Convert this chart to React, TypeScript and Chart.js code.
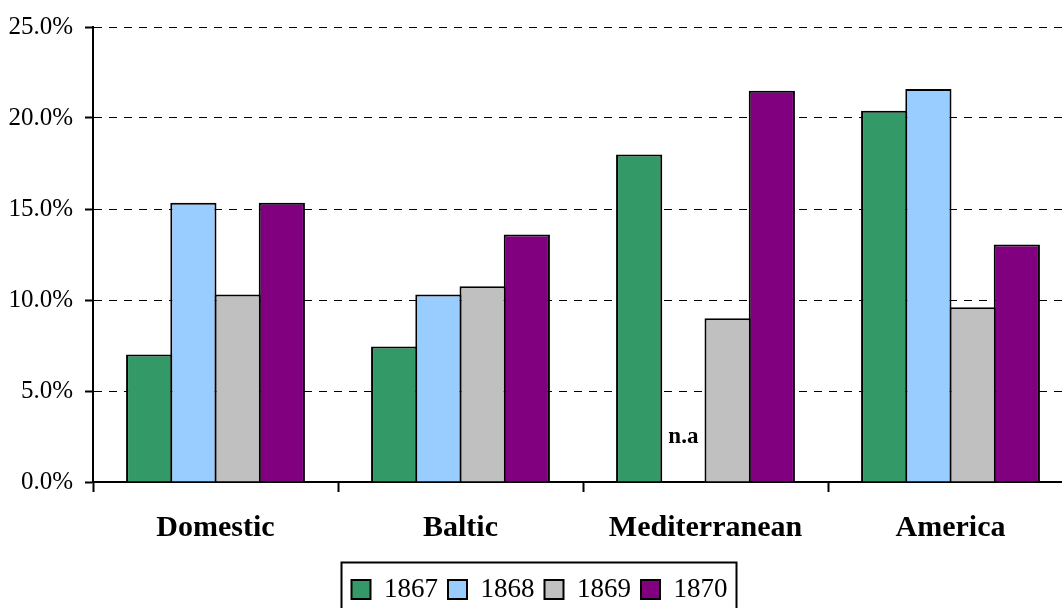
import { useEffect, useRef } from 'react';
import { Chart, registerables } from 'chart.js';

Chart.register(...registerables);

// Share by trade region, per year (percent); null = not available
const regions = ['Domestic', 'Baltic', 'Mediterranean', 'America'];
const years = ['1867', '1868', '1869', '1870'];
const share1867 = [7.0, 7.45, 18.0, 20.4];
const share1868 = [15.35, 10.3, null, 21.6];
const share1869 = [10.3, 10.75, 9.0, 9.6];
const share1870 = [15.35, 13.6, 21.5, 13.05];
const yTickStep = 5;
const yMax = 25;
const naText = 'n.a';

const yearColors = ['#339966', '#99CCFF', '#C0C0C0', '#800080'];
const serif = '"Liberation Serif", "Times New Roman", serif';

// Frame around the legend items
const legendFrame = {
  id: 'legendFrame',
  afterDraw(chart: any) {
    const lg = chart.legend;
    if (!lg || !lg.legendHitBoxes || !lg.legendHitBoxes.length) return;
    const boxes = lg.legendHitBoxes;
    const left = Math.min(...boxes.map((b: any) => b.left)) - 10;
    const right = Math.max(...boxes.map((b: any) => b.left + b.width)) + 9;
    const cy = boxes[0].top + boxes[0].height / 2;
    const ctx = chart.ctx;
    ctx.save();
    ctx.strokeStyle = '#000';
    ctx.lineWidth = 2;
    ctx.strokeRect(left, cy - 27, right - left, 54);
    ctx.restore();
  },
};

// "n.a" marker where a year has no value
const naMarker = {
  id: 'naMarker',
  afterDatasetsDraw(chart: any) {
    const ctx = chart.ctx;
    const area = chart.chartArea;
    ctx.save();
    ctx.font = `bold 23px ${serif}`;
    ctx.fillStyle = '#000';
    ctx.textAlign = 'center';
    ctx.textBaseline = 'alphabetic';
    chart.data.datasets.forEach((ds: any, di: number) => {
      const meta = chart.getDatasetMeta(di);
      ds.data.forEach((v: any, i: number) => {
        if (v !== null) return;
        const el = meta.data[i];
        if (!el || !isFinite(el.x)) return;
        ctx.fillText(naText, el.x, area.bottom - 39);
      });
    });
    ctx.restore();
  },
};

export default function App() {
  const canvasRef = useRef<HTMLCanvasElement | null>(null);

  useEffect(() => {
    const canvas = canvasRef.current;
    if (!canvas) return;
    const series = [share1867, share1868, share1869, share1870];
    const chart = new Chart(canvas, {
      type: 'bar',
      data: {
        labels: regions,
        datasets: years.map((y, i) => ({
          label: y,
          data: series[i],
          backgroundColor: yearColors[i],
          borderColor: '#000',
          borderWidth: 2,
          borderSkipped: 'start',
          barPercentage: 1.045,
          categoryPercentage: 0.722,
        })),
      },
      options: {
        responsive: false,
        animation: false,
        devicePixelRatio: 1,
        layout: { padding: { top: 26, left: 6, right: 6, bottom: 12 } },
        plugins: {
          tooltip: { enabled: false },
          legend: {
            position: 'bottom',
            labels: {
              color: '#000',
              font: { family: serif, size: 27 },
              boxWidth: 19,
              boxHeight: 19,
              padding: 10,
            },
          },
        },
        scales: {
          x: {
            z: 1,
            grid: {
              display: true,
              drawOnChartArea: false,
              drawTicks: true,
              tickLength: 10,
              tickColor: '#000',
              tickWidth: 2,
              offset: true,
            },
            border: { display: true, color: '#000', width: 2 },
            ticks: {
              color: '#000',
              font: { family: serif, size: 30, weight: 'bold' },
              padding: 18,
            },
            afterFit: (s: any) => {
              s.height = 84;
            },
          },
          y: {
            min: 0,
            max: yMax,
            grid: {
              color: '#000',
              lineWidth: 1,
              tickLength: 8,
              tickColor: '#000',
              tickWidth: 2,
              tickBorderDash: [],
            },
            border: { display: true, color: '#000', width: 2, dash: [8, 7] },
            ticks: {
              stepSize: yTickStep,
              color: '#000',
              font: { family: serif, size: 25 },
              padding: 12,
              callback: (v: any) => `${Number(v).toFixed(1)}%`,
            },
            afterFit: (s: any) => {
              s.width = 87;
            },
          },
        },
      },
      plugins: [legendFrame, naMarker],
    });
    return () => chart.destroy();
  }, []);

  return (
    <div
      style={{
        position: 'fixed',
        left: 0,
        top: 0,
        width: 1062,
        height: 608,
        overflow: 'hidden',
        background: '#fff',
      }}
    >
      <canvas ref={canvasRef} width={1079} height={625} style={{ display: 'block' }} />
    </div>
  );
}
